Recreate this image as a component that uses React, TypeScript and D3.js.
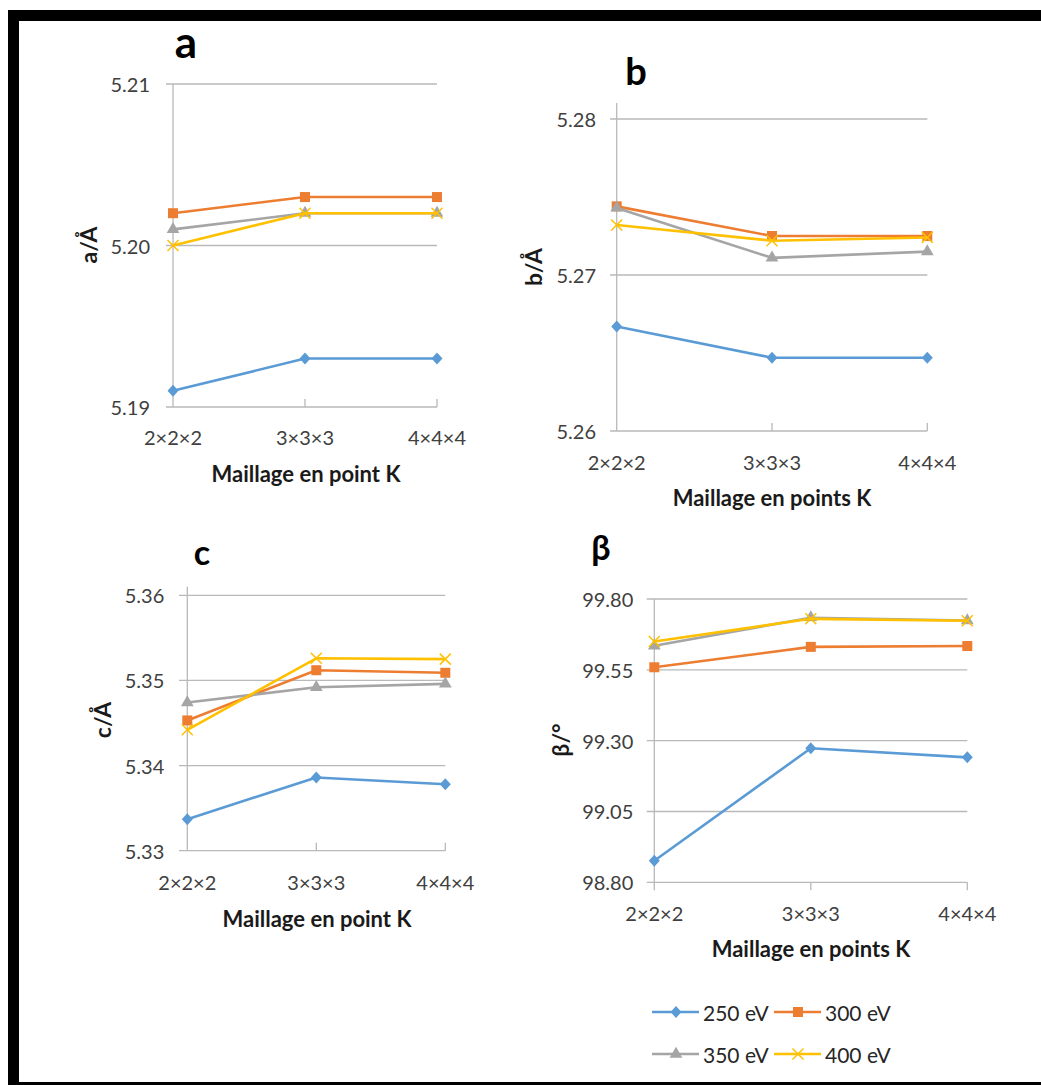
import React from "react";
import * as d3 from "d3";

const categories = ["2×2×2", "3×3×3", "4×4×4"];
const seriesNames = ["250 eV", "300 eV", "350 eV", "400 eV"];
const seriesColors = ["#5B9BD5", "#ED7D31", "#A5A5A5", "#FFC000"];
const seriesMarkers = ["diamond", "square", "triangle", "x"];

const aValues = [
  [5.191, 5.193, 5.193],
  [5.202, 5.203, 5.203],
  [5.201, 5.202, 5.202],
  [5.2, 5.202, 5.202],
];
const bValues = [
  [5.2667, 5.2647, 5.2647],
  [5.2744, 5.2725, 5.2725],
  [5.2743, 5.2711, 5.2715],
  [5.2732, 5.2722, 5.2724],
];
const cValues = [
  [5.3337, 5.3386, 5.3378],
  [5.3453, 5.3512, 5.3509],
  [5.3474, 5.3492, 5.3496],
  [5.3442, 5.3526, 5.3525],
];
const betaValues = [
  [98.876, 99.273, 99.241],
  [99.559, 99.631, 99.634],
  [99.635, 99.734, 99.724],
  [99.65, 99.73, 99.723],
];

const aTicks = [5.19, 5.2, 5.21];
const bTicks = [5.26, 5.27, 5.28];
const cTicks = [5.33, 5.34, 5.35, 5.36];
const betaTicks = [98.8, 99.05, 99.3, 99.55, 99.8];

const FONT = "Lato, 'Open Sans', sans-serif";

type Panel = {
  values: number[][];
  ticks: number[];
  title: string;
  titleX: number;
  titleY: number;
  titleSize: number;
  yLabel: string;
  yLabelX: number;
  yLabelY: number;
  xTitle: string;
  xTitleX: number;
  xTitleY: number;
  x0: number;
  x1: number;
  yTop: number;
  yBottom: number;
  gridStart: number;
  axisTop: number;
  tickRight: number;
  xTickY: number;
  tickUp: boolean;
};

const panels: Panel[] = [
  {
    values: aValues, ticks: aTicks, title: "a", titleX: 186, titleY: 58, titleSize: 44,
    yLabel: "a/Å", yLabelX: 88, yLabelY: 245,
    xTitle: "Maillage en point K", xTitleX: 306, xTitleY: 473,
    x0: 173, x1: 437, yTop: 84, yBottom: 407, gridStart: 166, axisTop: 84,
    tickRight: 150, xTickY: 437, tickUp: true,
  },
  {
    values: bValues, ticks: bTicks, title: "b", titleX: 636, titleY: 85, titleSize: 38,
    yLabel: "b/Å", yLabelX: 533, yLabelY: 267,
    xTitle: "Maillage en points K", xTitleX: 772, xTitleY: 497,
    x0: 616.7, x1: 927.3, yTop: 119, yBottom: 431, gridStart: 610, axisTop: 103,
    tickRight: 596, xTickY: 462, tickUp: true,
  },
  {
    values: cValues, ticks: cTicks, title: "c", titleX: 202, titleY: 565, titleSize: 34,
    yLabel: "c/Å", yLabelX: 102, yLabelY: 720,
    xTitle: "Maillage en point K", xTitleX: 317, xTitleY: 918,
    x0: 187.3, x1: 445.3, yTop: 595.3, yBottom: 850.7, gridStart: 179, axisTop: 586.7,
    tickRight: 164.3, xTickY: 882, tickUp: true,
  },
  {
    values: betaValues, ticks: betaTicks, title: "β", titleX: 601, titleY: 560, titleSize: 34,
    yLabel: "β/°", yLabelX: 560, yLabelY: 740,
    xTitle: "Maillage en points K", xTitleX: 811, xTitleY: 948,
    x0: 654.3, x1: 967.3, yTop: 599, yBottom: 882.3, gridStart: 646.7, axisTop: 599,
    tickRight: 633.3, xTickY: 913, tickUp: false,
  },
];

function Marker({ kind, x, y, color }: { kind: string; x: number; y: number; color: string }) {
  if (kind === "x") {
    const r = 5.5;
    return (
      <g stroke={color} strokeWidth={1.5}>
        <line x1={x - r} y1={y - r} x2={x + r} y2={y + r} />
        <line x1={x - r} y1={y + r} x2={x + r} y2={y - r} />
      </g>
    );
  }
  if (kind === "diamond") {
    const w = 5.5, h = 6;
    return <path d={`M${x},${y - h}L${x + w},${y}L${x},${y + h}L${x - w},${y}Z`} fill={color} />;
  }
  if (kind === "square") {
    const s = 5;
    return <rect x={x - s} y={y - s} width={2 * s} height={2 * s} fill={color} />;
  }
  const p = d3.symbol().type(d3.symbolTriangle).size(70)() as string;
  return <path d={p} transform={`translate(${x},${y})`} fill={color} />;
}

function ChartPanel({ p }: { p: Panel }) {
  const x = d3.scalePoint<string>().domain(categories).range([p.x0, p.x1]).padding(0);
  const dom = [p.ticks[0], p.ticks[p.ticks.length - 1]];
  const y = d3.scaleLinear().domain(dom).range([p.yBottom, p.yTop]);
  const line = d3
    .line<number>()
    .x((_, i) => x(categories[i]) as number)
    .y((v) => y(v));
  const gridColor = "#B9B9B9";
  return (
    <g>
      {p.ticks.map((t) => (
        <line key={t} x1={p.gridStart} x2={p.x1} y1={y(t)} y2={y(t)} stroke={gridColor} strokeWidth={1.3} />
      ))}
      <line x1={p.x0} x2={p.x0} y1={p.axisTop} y2={p.yBottom + (p.tickUp ? 0 : 8)} stroke={gridColor} strokeWidth={1.3} />
      {categories.slice(1).map((c) => (
        <line
          key={c}
          x1={x(c)}
          x2={x(c)}
          y1={p.yBottom}
          y2={p.yBottom + (p.tickUp ? -8 : 8)}
          stroke={gridColor}
          strokeWidth={1.3}
        />
      ))}
      {p.ticks.map((t) => (
        <text
          key={"l" + t}
          x={p.tickRight}
          y={y(t)}
          textAnchor="end"
          dominantBaseline="central"
          fontFamily={FONT}
          fontSize={20}
          fill="#404040"
        >
          {d3.format(".2f")(t)}
        </text>
      ))}
      {categories.map((c) => (
        <text
          key={"c" + c}
          x={x(c)}
          y={p.xTickY}
          textAnchor="middle"
          dominantBaseline="central"
          fontFamily={FONT}
          fontSize={20}
          fill="#404040"
        >
          {c}
        </text>
      ))}
      <text x={p.xTitleX} y={p.xTitleY} textAnchor="middle" dominantBaseline="central" fontFamily={FONT} fontWeight="bold" fontSize={22} fill="#1a1a1a">
        {p.xTitle}
      </text>
      <text
        transform={`translate(${p.yLabelX},${p.yLabelY}) rotate(-90)`}
        textAnchor="middle"
        dominantBaseline="central"
        fontFamily={FONT}
        fontWeight="bold"
        fontSize={23}
        fill="#1a1a1a"
      >
        {p.yLabel}
      </text>
      <text x={p.titleX} y={p.titleY} textAnchor="middle" fontFamily={FONT} fontWeight="bold" fontSize={p.titleSize} fill="#000">
        {p.title}
      </text>
      {p.values.map((vals, si) => (
        <g key={si}>
          <path d={line(vals) as string} fill="none" stroke={seriesColors[si]} strokeWidth={2.6} strokeLinejoin="round" />
          {vals.map((v, i) => (
            <Marker key={i} kind={seriesMarkers[si]} x={x(categories[i]) as number} y={y(v)} color={seriesColors[si]} />
          ))}
        </g>
      ))}
    </g>
  );
}

const legendPos = [
  { lx: 652, ty: 1012 },
  { lx: 774, ty: 1012 },
  { lx: 652, ty: 1054 },
  { lx: 774, ty: 1054 },
];

export default function App() {
  return (
    <div style={{ position: "absolute", left: 0, top: 0 }}>
      <svg width={1041} height={1085} style={{ display: "block", background: "#fff" }}>
        <rect x={0} y={0} width={1041} height={1085} fill="#fff" />
        {panels.map((p, i) => (
          <ChartPanel key={i} p={p} />
        ))}
        {seriesNames.map((n, i) => {
          const { lx, ty } = legendPos[i];
          return (
            <g key={n}>
              <line x1={lx} x2={lx + 47} y1={ty} y2={ty} stroke={seriesColors[i]} strokeWidth={2.6} />
              <Marker kind={seriesMarkers[i]} x={lx + 24} y={ty} color={seriesColors[i]} />
              <text x={lx + 51} y={ty} dominantBaseline="central" fontFamily={FONT} fontSize={21} fill="#262626">
                {n}
              </text>
            </g>
          );
        })}
        <rect x={8} y={10} width={1033} height={11} fill="#000" />
        <rect x={8} y={10} width={11} height={1075} fill="#000" />
        <rect x={8} y={1082} width={1033} height={3} fill="#000" />
      </svg>
    </div>
  );
}
